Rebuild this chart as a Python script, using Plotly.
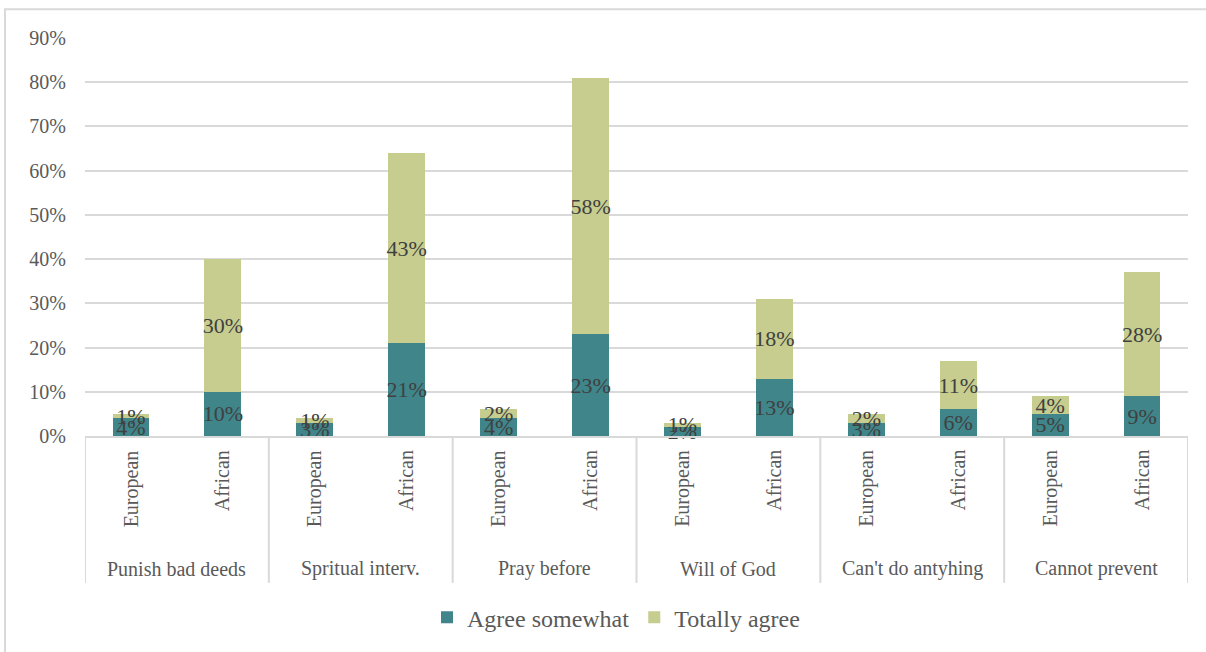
import plotly.graph_objects as go

# Survey results: share of respondents agreeing with each statement
statements = ["Punish bad deeds", "Spritual interv.", "Pray before",
              "Will of God", "Can't do antyhing", "Cannot prevent"]
origins = ["European", "African"]

agree_somewhat = [4, 10, 3, 21, 4, 23, 2, 13, 3, 6, 5, 9]
totally_agree = [1, 30, 1, 43, 2, 58, 1, 18, 2, 11, 4, 28]

# one category per bar: statement + origin
bar_keys = [f"{s} | {o}" for s in statements for o in origins]
bar_origin = [o for _ in statements for o in origins]

TEAL = "#3f858a"
OLIVE = "#c6cd8f"
FONT = "'Liberation Serif', 'Times New Roman', serif"
GRID = "#d9d9d9"
LABEL = "#595959"

W, H = 1206, 652
ML, MR, MT, MB = 85, 18, 38, 213
pw = W - ML - MR
ph = H - MT - MB


def py(px):
    """Convert a pixel row in the page to paper-y."""
    return (H - MB - px) / ph


def pxx(px):
    """Convert a pixel column in the page to paper-x."""
    return (px - ML) / pw


fig = go.Figure()
for name, vals, col in [("Agree somewhat", agree_somewhat, TEAL),
                        ("Totally agree", totally_agree, OLIVE)]:
    fig.add_trace(go.Bar(
        name=name,
        x=bar_keys,
        y=vals,
        marker=dict(color=col, line=dict(width=0)),
        text=[f"{v}%" for v in vals],
        textposition="inside",
        insidetextanchor="middle",
        textangle=0,
        textfont=dict(family=FONT, size=22, color="#404040"),
        constraintext="none",
        cliponaxis=False,
    ))

annotations = []
shapes = []

# inner level: origin labels, rotated
for i, o in enumerate(bar_origin):
    annotations.append(dict(
        x=i, xref="x", y=py(451), yref="paper",
        text=o, textangle=-90, showarrow=False,
        xanchor="center", yanchor="top",
        font=dict(family=FONT, size=20, color=LABEL),
    ))

# outer level: statement labels
for g, s in enumerate(statements):
    annotations.append(dict(
        x=2 * g + 0.5, xref="x", y=py(573), yref="paper",
        text=s, showarrow=False,
        xanchor="center", yanchor="middle",
        font=dict(family=FONT, size=20, color=LABEL),
    ))

# group dividers below the axis
for g in range(len(statements) + 1):
    shapes.append(dict(
        type="line", xref="x", yref="paper",
        x0=2 * g - 0.5, x1=2 * g - 0.5, y0=0, y1=py(587),
        line=dict(color=GRID, width=2),
    ))

# chart frame
shapes.append(dict(
    type="rect", xref="paper", yref="paper",
    x0=pxx(5), x1=pxx(1215), y0=py(660), y1=py(9),
    line=dict(color=GRID, width=2), fillcolor="rgba(0,0,0,0)",
    layer="below",
))

fig.update_layout(
    width=W, height=H,
    margin=dict(l=ML, r=MR, t=MT, b=MB),
    barmode="stack",
    bargap=0.6,
    plot_bgcolor="white",
    paper_bgcolor="white",
    font=dict(family=FONT, size=20, color=LABEL),
    uniformtext=dict(minsize=22, mode="show"),
    showlegend=True,
    legend=dict(
        orientation="h",
        x=pxx(616), xanchor="center",
        y=py(622), yanchor="middle",
        font=dict(family=FONT, size=24, color=LABEL),
        traceorder="normal",
        itemwidth=30,
    ),
    xaxis=dict(
        type="category",
        range=[-0.5, len(bar_keys) - 0.5],
        showticklabels=False,
        showline=True, linecolor=GRID, linewidth=2,
        showgrid=False, zeroline=False,
        ticks="",
        automargin=False,
    ),
    yaxis=dict(
        range=[0, 90],
        dtick=10,
        ticksuffix="%",
        showgrid=True, gridcolor=GRID, gridwidth=2,
        zeroline=False,
        showline=False,
        ticks="",
        ticklabelstandoff=18,
        tickfont=dict(family=FONT, size=20, color=LABEL),
        automargin=False,
    ),
    annotations=annotations,
    shapes=shapes,
)

fig.write_html("out.html")
